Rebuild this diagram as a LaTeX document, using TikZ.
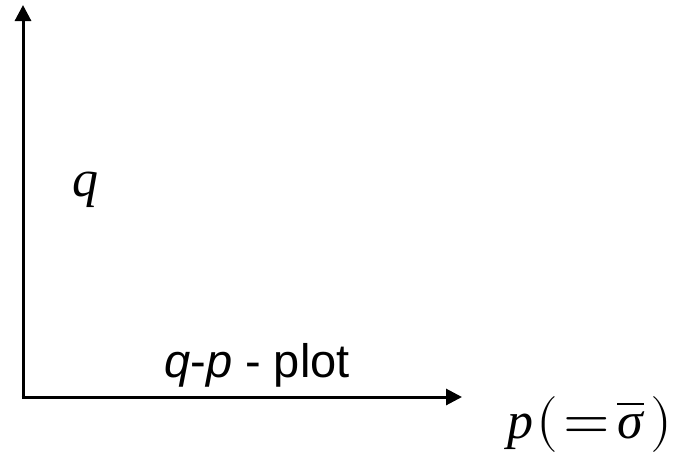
\documentclass[tikz,border=0pt]{standalone}
\usepackage{fontspec}
\setmainfont{Liberation Serif}
\setsansfont{Liberation Sans}
\usepackage{unicode-math}
\setmathfont{Latin Modern Math}
\usetikzlibrary{arrows.meta}
\newcommand{\bigpar}[1]{{\fontsize{56}{56}\selectfont$#1$}}

\begin{document}
\begin{tikzpicture}[
  x=1pt, y=-1pt,
  axis/.style={line width=3pt, -{Triangle[length=16pt, width=16pt]}},
  lab/.style={inner sep=0pt, anchor=center}
]
\useasboundingbox (0,0) rectangle (677,455);
\coordinate (origin) at (23,397);
\coordinate (qtip) at (23,5);
\coordinate (ptip) at (462,397);
\draw[axis] ([yshift=-1.5pt]origin) -- (qtip);
\draw[axis] ([xshift=-1.5pt]origin) -- (ptip);
\node[lab] (qlab) at (85,190) {\fontsize{52}{56}\selectfont\textit{q}};
\node[lab, anchor=base] (title) at (257,377) {\fontsize{47}{52}\selectfont\sffamily\textit{q}-\textit{p} - plot};
\node[lab, anchor=base] (plab) at (590,438) {\fontsize{52}{56}\selectfont\textit{p}\hspace{3pt}\bigpar{(}\hspace{5pt}\raisebox{-1pt}{\scalebox{1.15}{$=$}}\hspace{7pt}$\overline{\hbox{\textit{σ}}}$\hspace{6pt}\bigpar{)}};
\end{tikzpicture}
\end{document}
